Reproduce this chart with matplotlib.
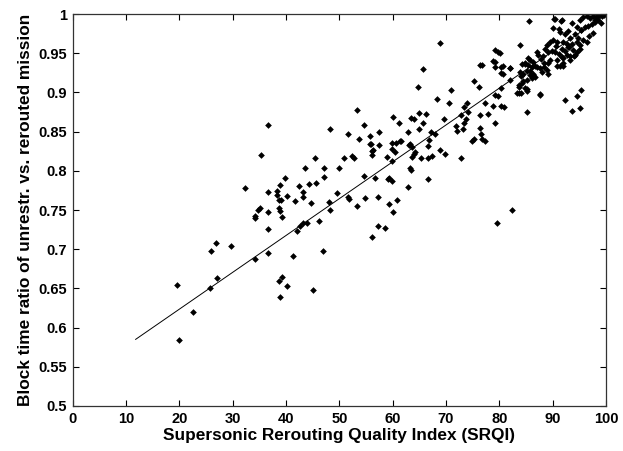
import numpy as np
import matplotlib
matplotlib.use("Agg")
import matplotlib.pyplot as plt

# SRQI vs block time ratio
srqi = [
    19.6, 19.9, 22.5, 25.7, 25.9, 26.9, 27.1, 29.6, 32.3,
    34.1, 34.2, 34.1, 34.7, 35.1, 35.3, 36.6, 36.6, 36.7, 36.6, 36.7,
    38.4, 38.4, 38.6, 39.1, 38.6, 38.9, 39.2, 38.9, 39.9, 40.1,
    38.6, 39.2, 40.1, 38.9, 41.4, 41.6, 42.0, 42.4, 42.6, 43.2,
    43.2, 43.2, 43.6, 44.0, 44.4, 44.6, 45.1, 45.4, 45.7, 46.1,
    46.9, 47.1, 47.1, 48.1, 48.2, 48.2, 50.0, 50.8, 51.6, 51.7,
    51.8, 52.3, 52.8, 53.4, 53.4, 53.7, 54.6, 54.6, 54.8, 55.8,
    55.8, 56.1, 56.4, 56.2, 56.7, 56.1, 57.3, 57.3, 57.4, 57.5,
    58.6, 58.9, 59.4, 59.4, 59.8, 59.8, 59.8, 59.8, 60.1, 60.1,
    60.4, 60.6, 60.9, 61.1, 61.4, 62.8, 62.9, 63.2, 63.2, 63.4,
    63.4, 63.6, 63.6, 64.0, 64.0, 64.2, 64.7, 64.9, 64.9, 65.3,
    65.6, 65.7, 66.2, 66.7, 66.7, 66.8, 67.1, 67.4, 67.9, 68.3,
    68.9, 68.9, 69.7, 69.9, 70.5, 70.9, 71.9, 72.1, 72.8, 72.8,
    73.1, 73.4, 73.4, 73.7, 74.0, 74.2, 74.8, 75.2, 75.2, 76.2,
    76.4, 76.4, 76.5, 76.7, 76.7, 77.3, 77.4, 77.9, 78.8, 79.1,
    79.2, 79.8, 79.2, 79.2, 79.2, 79.8, 79.6, 80.4, 80.4, 80.9,
    80.6, 80.7, 82.0, 82.0, 82.3, 83.4, 83.6, 83.9, 84.0, 84.0,
    84.4, 84.8, 85.1, 85.1, 85.1, 85.4, 85.6, 85.7, 86.4, 87.0,
    87.6, 87.7, 88.3, 88.9, 55.9, 61.5, 63.1, 66.6, 59.2, 49.5,
    # dense cluster near the top right
    90.2, 91.6, 91.2, 91.4, 93.7, 94.5, 95.1, 95.7, 96.4, 97.0,
    97.6, 98.2, 98.7, 97.9, 97.3, 96.7, 96.1, 95.4, 97.6, 96.4,
    95.4, 94.2, 93.2, 92.3, 92.9, 92.0, 92.6, 93.6, 94.5, 95.1,
    95.7, 89.5, 90.1, 90.8, 91.7, 92.3, 92.9, 93.9, 94.5, 95.1,
    90.4, 91.1, 91.7, 92.6, 93.2, 94.2, 88.6, 89.2, 89.8, 87.3,
    87.9, 87.0, 88.2, 85.7, 86.4, 85.4, 89.5, 90.8, 92.0, 84.2,
    84.8, 86.1, 86.7, 89.2, 90.8, 91.4, 92.0, 83.9, 84.5, 85.1,
    85.7, 86.1, 86.4, 86.7, 88.0, 89.2, 83.6, 84.2, 84.8, 85.1,
    87.6, 83.6, 92.3, 94.5, 95.4, 95.1, 93.6, 80.1, 78.9, 80.4,
    82.0, 80.4, 76.4, 90.1, 91.7, 90.4, 98.5, 99.2, 99.6, 98.0,
    99.0, 96.9, 93.0, 94.0, 89.0, 88.4, 90.6, 91.9, 93.3, 94.8,
]
ratio = [
    0.654, 0.584, 0.620, 0.650, 0.698, 0.708, 0.663, 0.704, 0.778,
    0.688, 0.743, 0.740, 0.750, 0.752, 0.820, 0.858, 0.773, 0.748, 0.695, 0.726,
    0.774, 0.769, 0.763, 0.763, 0.753, 0.749, 0.741, 0.782, 0.791, 0.768,
    0.659, 0.665, 0.653, 0.639, 0.691, 0.761, 0.723, 0.781, 0.729, 0.773,
    0.766, 0.734, 0.803, 0.733, 0.783, 0.759, 0.648, 0.817, 0.784, 0.736,
    0.698, 0.803, 0.792, 0.760, 0.750, 0.853, 0.804, 0.816, 0.847, 0.767,
    0.764, 0.819, 0.816, 0.878, 0.755, 0.841, 0.858, 0.793, 0.765, 0.844,
    0.834, 0.825, 0.827, 0.820, 0.791, 0.716, 0.730, 0.767, 0.833, 0.849,
    0.727, 0.818, 0.791, 0.758, 0.787, 0.813, 0.828, 0.836, 0.869, 0.747,
    0.824, 0.836, 0.763, 0.861, 0.838, 0.780, 0.850, 0.834, 0.803, 0.801,
    0.867, 0.830, 0.818, 0.866, 0.822, 0.824, 0.907, 0.874, 0.854, 0.817,
    0.861, 0.930, 0.872, 0.790, 0.817, 0.839, 0.850, 0.819, 0.847, 0.892,
    0.963, 0.827, 0.866, 0.822, 0.887, 0.903, 0.857, 0.851, 0.871, 0.816,
    0.853, 0.881, 0.861, 0.866, 0.886, 0.875, 0.838, 0.915, 0.840, 0.907,
    0.871, 0.855, 0.847, 0.841, 0.935, 0.838, 0.887, 0.872, 0.883, 0.861,
    0.954, 0.951, 0.939, 0.933, 0.897, 0.895, 0.734, 0.906, 0.883, 0.882,
    0.924, 0.934, 0.931, 0.916, 0.750, 0.899, 0.909, 0.961, 0.921, 0.899,
    0.915, 0.937, 0.905, 0.916, 0.875, 0.935, 0.991, 0.922, 0.924, 0.932,
    0.898, 0.931, 0.933, 0.929, 0.834, 0.838, 0.833, 0.832, 0.790, 0.772,
    # dense cluster near the top right
    0.994, 0.991, 0.981, 0.977, 0.988, 0.984, 0.993, 0.996, 0.997, 0.995,
    0.998, 0.996, 0.999, 0.990, 0.987, 0.985, 0.983, 0.980, 0.976, 0.965,
    0.980, 0.974, 0.969, 0.974, 0.978, 0.964, 0.962, 0.962, 0.965, 0.961,
    0.967, 0.965, 0.967, 0.965, 0.955, 0.953, 0.958, 0.954, 0.952, 0.955,
    0.951, 0.949, 0.945, 0.948, 0.946, 0.948, 0.955, 0.951, 0.953, 0.948,
    0.943, 0.952, 0.946, 0.941, 0.939, 0.944, 0.942, 0.942, 0.938, 0.936,
    0.936, 0.932, 0.934, 0.937, 0.934, 0.934, 0.934, 0.926, 0.924, 0.928,
    0.928, 0.918, 0.922, 0.920, 0.926, 0.924, 0.907, 0.912, 0.906, 0.902,
    0.897, 0.899, 0.891, 0.895, 0.903, 0.880, 0.876, 0.950, 0.940, 0.933,
    0.931, 0.925, 0.935, 0.982, 0.992, 0.994, 0.993, 0.997, 0.999, 0.992,
    0.989, 0.972, 0.958, 0.946, 0.960, 0.938, 0.959, 0.944, 0.941, 0.969,
]

# linear fit drawn over the points
fit_x = [11.8, 100]
fit_y = [0.585, 0.9995]

plt.rcParams["font.family"] = ["Liberation Sans", "DejaVu Sans"]
fig = plt.figure(figsize=(6.23, 4.51), dpi=100)
ax = fig.add_axes([0.1167, 0.0998, 0.856, 0.869])

ax.plot(fit_x, fit_y, color="black", lw=0.7)
ax.plot(srqi, ratio, "D", color="black", ms=3.4, mew=0, linestyle="none")

ax.set_xlim(0, 100)
ax.set_ylim(0.5, 1)
ax.set_xticks(np.arange(0, 101, 10))
ax.set_yticks(np.arange(0.5, 1.001, 0.05))
ax.set_yticklabels(["0.5", "0.55", "0.6", "0.65", "0.7", "0.75", "0.8",
                    "0.85", "0.9", "0.95", "1"])
ax.tick_params(direction="in", length=4, width=0.8, top=True, right=True,
               labelsize=10.5, pad=4)
for lbl in ax.get_xticklabels() + ax.get_yticklabels():
    lbl.set_fontweight("bold")
for sp in ax.spines.values():
    sp.set_linewidth(0.9)
    sp.set_color("#333333")

ax.set_xlabel("Supersonic Rerouting Quality Index (SRQI)", fontsize=12.4,
              fontweight="bold", labelpad=2)
ax.set_ylabel("Block time ratio of unrestr. vs. rerouted mission", fontsize=12.4,
              fontweight="bold", labelpad=4)

fig.savefig("out.png", dpi=100)
